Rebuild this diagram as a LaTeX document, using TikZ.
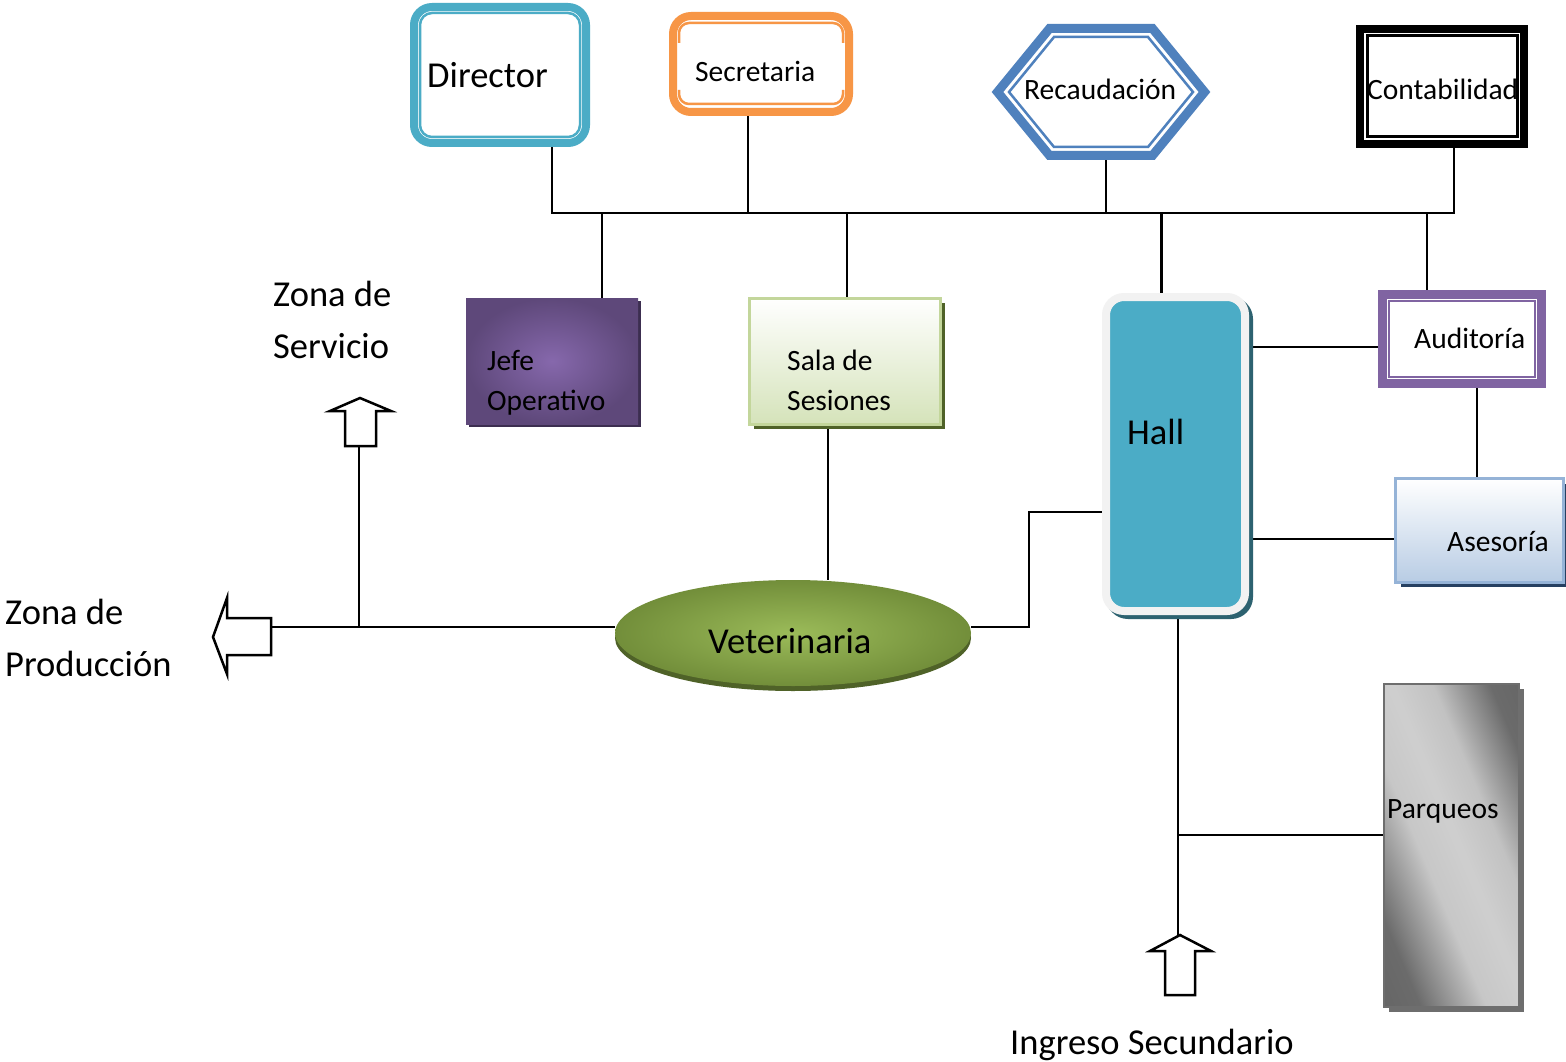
\documentclass[tikz,border=0pt]{standalone}
\usepackage{fontspec}
\setmainfont{Carlito}
\usetikzlibrary{shapes.geometric,shadows,backgrounds}

\definecolor{dirblue}{RGB}{75,172,198}
\definecolor{secorange}{RGB}{247,150,70}
\definecolor{recblue}{RGB}{79,129,189}
\definecolor{audpurple}{RGB}{128,100,162}
\definecolor{jefein}{RGB}{134,104,172}
\definecolor{jefeout}{RGB}{94,72,122}
\definecolor{jefeshadow}{RGB}{60,46,80}
\definecolor{salaborder}{RGB}{195,214,155}
\definecolor{salabottom}{RGB}{213,227,186}
\definecolor{salashadow}{RGB}{79,98,40}
\definecolor{hallborder}{RGB}{242,242,242}
\definecolor{hallshadow}{RGB}{45,98,112}
\definecolor{aseborder}{RGB}{149,179,215}
\definecolor{asebottom}{RGB}{184,204,228}
\definecolor{aseshadow}{RGB}{38,64,97}
\definecolor{vetin}{RGB}{155,187,89}
\definecolor{vetout}{RGB}{114,142,58}
\definecolor{vetshadow}{RGB}{79,98,40}
\definecolor{parqborder}{RGB}{110,110,110}

\pgfdeclarehorizontalshading{parqshade}{100bp}{color(0bp)=(black!64); color(26bp)=(black!58); color(42bp)=(black!22); color(52bp)=(black!19); color(62bp)=(black!24); color(76bp)=(black!58); color(100bp)=(black!64)}

\begin{document}
\begin{tikzpicture}[x=1pt,y=-1pt,
  link/.style={line width=2.8pt},
  txt/.style={font=\fontsize{29.5}{40}\selectfont, inner sep=0pt, anchor=base west, align=left},
  bigtxt/.style={font=\fontsize{36.5}{52}\selectfont, inner sep=0pt, anchor=base west, align=left},
  blockarrow/.style={line width=2.5pt, fill=white, line join=miter}]
  \useasboundingbox (0,0) rectangle (1566,1062);

  % Top row
  \node[draw=dirblue, line width=8pt, rounded corners=18pt, fill=white, minimum width=172pt, minimum height=136pt] (dir) at (500,75) {};
  \draw[dirblue, line width=2.5pt, rounded corners=12pt] ([shift={(10pt,-10pt)}]dir.north west) rectangle ([shift={(-10pt,10pt)}]dir.south east);
  \node[bigtxt] (dir-t) at (427,88) {Director};

  \node[draw=secorange, line width=8pt, rounded corners=18pt, fill=white, minimum width=176pt, minimum height=96pt] (secr) at (761,64) {};
  \draw[secorange, line width=2.5pt, rounded corners=10pt] ([shift={(10pt,-31pt)}]secr.north west) -- ([shift={(10pt,-11pt)}]secr.north west) -- ([shift={(-10pt,-11pt)}]secr.north east) -- ([shift={(-10pt,-31pt)}]secr.north east);
  \draw[secorange, line width=2.5pt, rounded corners=10pt] ([shift={(10pt,26pt)}]secr.south west) -- ([shift={(10pt,12pt)}]secr.south west) -- ([shift={(-10pt,12pt)}]secr.south east) -- ([shift={(-10pt,26pt)}]secr.south east);
  \node[txt] (secr-t) at (695,82) {Secretaria};

  \node[minimum width=207pt, minimum height=127pt] (rec) at (1101,92) {};
  \draw[recblue, line width=9pt, fill=white, line join=miter] (rec.center) ++(-103.5,0) -- ++(52,-63.5) -- ++(103,0) -- ++(52,63.5) -- ++(-52,63.5) -- ++(-103,0) -- cycle;
  \draw[recblue, line width=2.5pt, line join=miter] (rec.center) ++(-92,0) -- ++(45,-55) -- ++(94,0) -- ++(45,55) -- ++(-45,55) -- ++(-94,0) -- cycle;
  \node[txt] (rec-t) at (1024,100) {Recaudación};

  \node[draw=black, line width=8pt, fill=white, minimum width=164pt, minimum height=115pt] (cont) at (1442,86.5) {};
  \draw[black, line width=3pt] ([shift={(11pt,-11pt)}]cont.north west) rectangle ([shift={(-11pt,11pt)}]cont.south east);
  \node[txt] (cont-t) at (1367,100) {Contabilidad};

  % Second row
  \node[inner color=jefein, outer color=jefeout, general shadow={fill=jefeshadow, shadow xshift=3pt, shadow yshift=-3pt}, minimum width=172pt, minimum height=126pt] (jefe) at (552,361) {};
  \node[txt] (jefe-t) at (487,410) {Jefe\\Operativo};

  \node[draw=salaborder, line width=3pt, top color=white, bottom color=salabottom, general shadow={fill=salashadow, shadow xshift=4.5pt, shadow yshift=-4.5pt}, minimum width=191pt, minimum height=126pt] (sala) at (845,361) {};
  \node[txt] (sala-t) at (787,410) {Sala de\\Sesiones};

  \node[draw=hallborder, line width=8pt, fill=dirblue, rounded corners=18pt, general shadow={fill=hallshadow, draw=hallshadow, line width=8pt, shadow xshift=4pt, shadow yshift=-4pt}, minimum width=139pt, minimum height=314pt] (hall) at (1175.5,454) {};
  \node[bigtxt] (hall-t) at (1127,444) {Hall};

  \node[draw=audpurple, line width=9pt, fill=white, minimum width=159pt, minimum height=89pt] (aud) at (1462,339) {};
  \draw[audpurple, line width=2.5pt] ([shift={(11pt,-11pt)}]aud.north west) rectangle ([shift={(-11pt,11pt)}]aud.south east);
  \node[txt] (aud-t) at (1414,348) {Auditoría};

  \node[draw=aseborder, line width=3pt, top color=white, bottom color=asebottom, general shadow={fill=aseshadow, shadow xshift=5pt, shadow yshift=-5pt}, minimum width=168pt, minimum height=103.5pt] (ase) at (1479.5,530.5) {};
  \node[txt] (ase-t) at (1447,551) {Asesoría};

  % Veterinaria and Parqueos
  \node[ellipse, inner color=vetin, outer color=vetout, general shadow={fill=vetshadow, shadow yshift=-5pt}, minimum width=356pt, minimum height=106pt] (vet) at (793,633) {};
  \node[bigtxt] (vet-t) at (708,653) {Veterinaria};

  \node[draw=parqborder, line width=2pt, shade, shading=parqshade, shading angle=23, general shadow={fill=parqborder, shadow xshift=5pt, shadow yshift=-5pt}, minimum width=135pt, minimum height=323pt] (parq) at (1451,845) {};
  \node[txt] (parq-t) at (1387,818) {Parqueos};

  % Exits
  \draw[blockarrow] (345,446) -- (345,411) -- (330,411) -- (360,398) -- (391,411) -- (376,411) -- (376,446) -- cycle;
  \node[bigtxt] (srv-t) at (273,358) {Zona de\\Servicio};

  \draw[blockarrow] (271,618) -- (227,618) -- (227,598) -- (213,637) -- (227,674) -- (227,655) -- (271,655) -- cycle;
  \node[bigtxt] (prd-t) at (5,676) {Zona de\\Producción};

  \draw[blockarrow] (1165,995) -- (1165,951) -- (1150,951) -- (1180,935) -- (1211,951) -- (1195,951) -- (1195,995) -- cycle;
  \node[bigtxt] (ing-t) at (1010,1054) {Ingreso Secundario};

  \coordinate (busL) at (552,213);
  \coordinate (busR) at (1454,213);
  \coordinate (hj) at (1029,512);
  \coordinate (pj) at (1178,835);
  \coordinate (jn) at (359,627);
  \coordinate (srv) at (359,446);
  \coordinate (prd) at (271,627);
  \coordinate (ing) at (1178,935);

  % Connectors
  \begin{scope}[on background layer]
    \fill[white] (0,0) rectangle (1566,1062);
    \draw[link] ([xshift=52pt]dir.south) -- (busL) -- (busR) -- ([xshift=12pt]cont.south);
    \draw[link] ([xshift=-13pt]secr.south) -- ([xshift=-13pt]secr.south |- busL);
    \draw[link] ([xshift=5pt]rec.south) -- ([xshift=5pt]rec.south |- busL);
    \draw[link] ([xshift=50pt]jefe.north) -- ([xshift=50pt]jefe.north |- busL);
    \draw[link] ([xshift=2pt]sala.north) -- ([xshift=2pt]sala.north |- busL);
    \draw[link] ([xshift=-14pt]hall.north) -- ([xshift=-14pt]hall.north |- busL);
    \draw[link] ([xshift=-35pt]aud.north) -- ([xshift=-35pt]aud.north |- busL);
    \draw[link] ([xshift=-17pt]sala.south) -- ([xshift=-17pt]sala.south |- vet.north);
    \draw[link] ([yshift=6pt]vet.west) -- (prd);
    \draw[link] (jn) -- (srv);
    \draw[link] ([yshift=6pt]vet.east) -| (hj) -- (hj -| hall.west);
    \draw[link] ([yshift=-8pt]aud.west) -- ([yshift=-8pt]aud.west -| hall.east);
    \draw[link] ([yshift=-8.5pt]ase.west) -- ([yshift=-8.5pt]ase.west -| hall.east);
    \draw[link] ([xshift=15pt]aud.south) -- ([xshift=15pt]aud.south |- ase.north);
    \draw[link] (hall.south -| ing) -- (ing);
    \draw[link] (pj) -- (pj -| parq.west);
  \end{scope}
\end{tikzpicture}
\end{document}
